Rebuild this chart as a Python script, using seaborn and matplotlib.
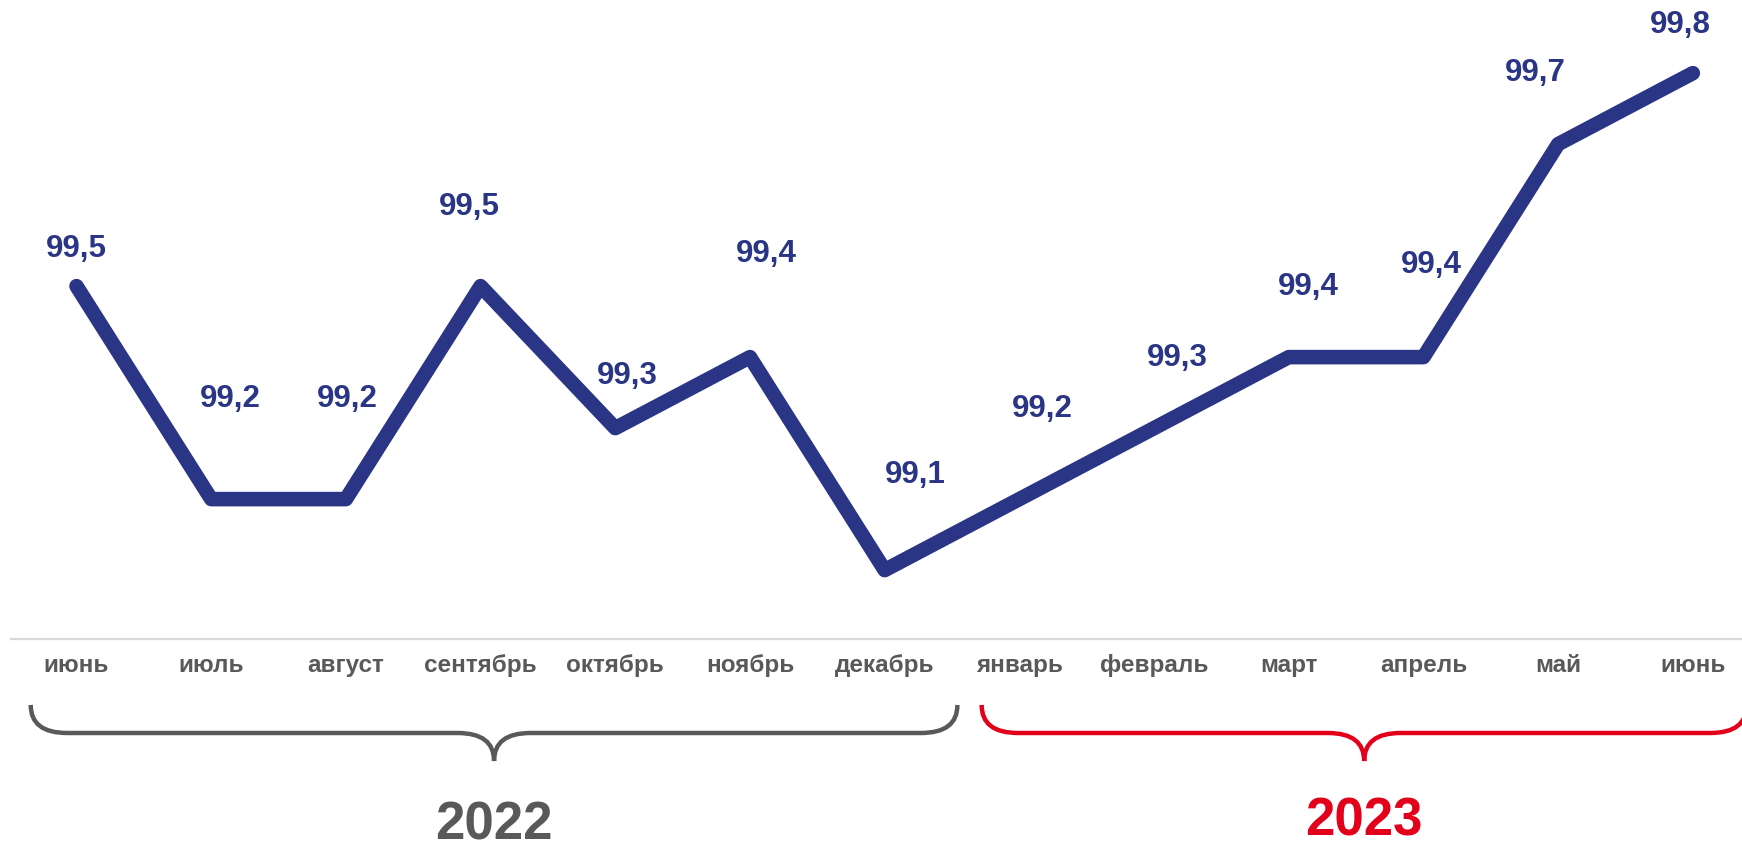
import matplotlib
matplotlib.use("Agg")
import matplotlib.pyplot as plt
from matplotlib.path import Path
from matplotlib.patches import PathPatch
import seaborn as sns
import pandas as pd

# data
months = ["июнь", "июль", "август", "сентябрь", "октябрь", "ноябрь", "декабрь",
          "январь", "февраль", "март", "апрель", "май", "июнь"]
values = [99.5, 99.2, 99.2, 99.5, 99.3, 99.4, 99.1,
          99.2, 99.3, 99.4, 99.4, 99.7, 99.8]
years = ["2022", "2023"]
year_groups = [(0, 6), (7, 12)]

# label offsets in pixels (dx, dy) -- styling only
label_offsets = [(0, 37), (19, 100), (1, 100), (-11, 79), (12, 52), (16, 103), (31, 95),
                 (23, 90), (23, 70), (20, 70), (8, 92), (-23, 71), (-12, 48)]

NAVY = "#2A3685"
GRAY = "#595959"
RED = "#E2001A"

sns.set_style("white")
plt.rcParams["font.family"] = ["Liberation Sans", "DejaVu Sans"]

df = pd.DataFrame({"idx": range(len(values)), "value": values})

fig = plt.figure(figsize=(17.42, 8.47), dpi=100)
ax = fig.add_axes([0, 0, 1, 1])

sns.lineplot(data=df, x="idx", y="value", ax=ax, color=NAVY, linewidth=10.5,
             solid_capstyle="round", solid_joinstyle="round")

ax.set_xlim(-0.568, 12.365)
ax.set_ylim(98.710, 99.903)

for (i, v), (dx, dy) in zip(enumerate(values), label_offsets):
    ax.annotate(f"{v:.1f}".replace(".", ","), (i, v), xytext=(dx, dy),
                textcoords="offset pixels", ha="center", va="center",
                fontsize=22.5, fontweight="bold", color=NAVY)

# axis line + month labels
for s in ["top", "left", "right"]:
    ax.spines[s].set_visible(False)
ax.spines["bottom"].set_position(("data", 99.003))
ax.spines["bottom"].set_bounds(-0.49, 12.4)
ax.spines["bottom"].set_color("#D9D9D9")
ax.spines["bottom"].set_linewidth(1.6)
ax.set_yticks([])
ax.set_xticks(range(len(months)))
ax.set_xticklabels(months, fontsize=17.5, fontweight="bold", color=GRAY)
ax.tick_params(axis="x", length=0, pad=11)
ax.set_xlabel("")
ax.set_ylabel("")


def draw_brace(x0, x1, color):
    # y in axes fraction, x in data units
    top, bar, tip = 0.1677, 0.1346, 0.1015
    r = 0.27
    xm = (x0 + x1) / 2
    verts = [(x0, top), (x0, bar), (x0 + r, bar),
             (xm - r, bar), (xm, bar), (xm, tip),
             (xm, bar), (xm + r, bar),
             (x1 - r, bar), (x1, bar), (x1, top)]
    codes = [Path.MOVETO, Path.CURVE3, Path.CURVE3,
             Path.LINETO, Path.CURVE3, Path.CURVE3,
             Path.CURVE3, Path.CURVE3,
             Path.LINETO, Path.CURVE3, Path.CURVE3]
    patch = PathPatch(Path(verts, codes), facecolor="none", edgecolor=color,
                      linewidth=3.2, transform=ax.get_xaxis_transform(), clip_on=False)
    ax.add_patch(patch)
    return xm


year_colors = [GRAY, RED]
brace_pads = [(-0.34, 0.54), (-0.28, 0.40)]
year_base = [0.009, 0.013]
for (a, b), (pl, pr), yr, col, yb in zip(year_groups, brace_pads, years, year_colors, year_base):
    xm = draw_brace(a + pl, b + pr, col)
    ax.text(xm, yb, yr, transform=ax.get_xaxis_transform(), ha="center", va="baseline",
            fontsize=38, fontweight="bold", color=col)

fig.savefig("out.png", dpi=100)
plt.close("all")
